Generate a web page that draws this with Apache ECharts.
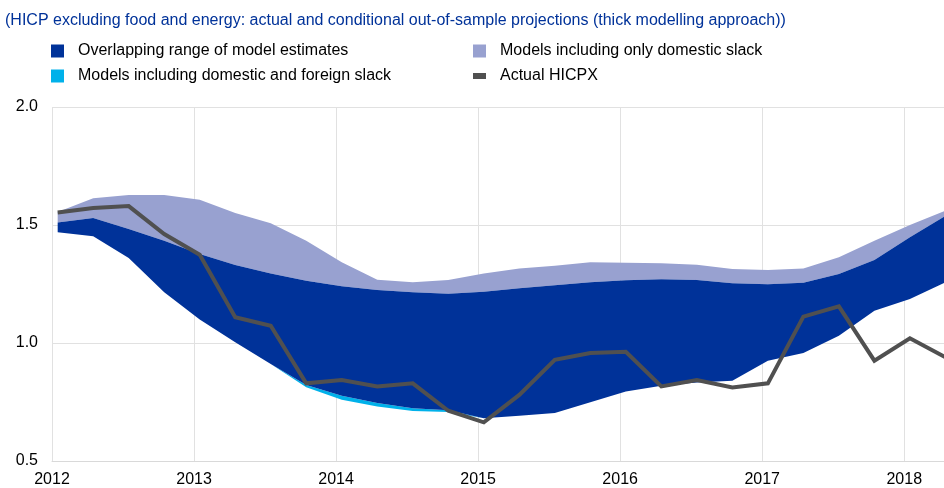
<!DOCTYPE html>
<html>
<head>
<meta charset="utf-8">
<script src="https://cdn.jsdelivr.net/npm/echarts@6/dist/echarts.min.js"></script>
<style>
  html, body { margin: 0; padding: 0; background: #fff; }
  #chart { width: 944px; height: 488px; }
</style>
</head>
<body>
<div id="chart"></div>
<script>
// Quarterly observations, 2012 Q1 to 2018 Q2 (fractional-year positions)
const quarters = [
  2012.04, 2012.29, 2012.54, 2012.79, 2013.04, 2013.29, 2013.54, 2013.79,
  2014.04, 2014.29, 2014.54, 2014.79, 2015.04, 2015.29, 2015.54, 2015.79,
  2016.04, 2016.29, 2016.54, 2016.79, 2017.04, 2017.29, 2017.54, 2017.79,
  2018.04, 2018.29
];

// Upper bound of models including only domestic slack
const domesticOnlyTop = [
  1.555, 1.613, 1.627, 1.627, 1.607, 1.551, 1.507, 1.433,
  1.342, 1.268, 1.257, 1.267, 1.295, 1.316, 1.327, 1.342,
  1.340, 1.338, 1.332, 1.314, 1.309, 1.316, 1.363, 1.433,
  1.500, 1.561
];

// Overlapping range of model estimates: upper and lower bounds
const overlapTop = [
  1.511, 1.530, 1.483, 1.433, 1.377, 1.331, 1.295, 1.264,
  1.240, 1.225, 1.215, 1.209, 1.217, 1.232, 1.245, 1.257,
  1.266, 1.270, 1.267, 1.253, 1.249, 1.255, 1.292, 1.352,
  1.448, 1.539
];
const overlapBottom = [
  1.469, 1.452, 1.360, 1.215, 1.100, 1.003, 0.911, 0.822,
  0.776, 0.746, 0.723, 0.715, 0.681, 0.692, 0.703, 0.749,
  0.794, 0.819, 0.833, 0.840, 0.925, 0.958, 1.031, 1.137,
  1.186, 1.257
];

// Lower bound of models including domestic and foreign slack
const domesticForeignBottom = [
  1.469, 1.452, 1.360, 1.215, 1.100, 1.003, 0.911, 0.812,
  0.760, 0.731, 0.712, 0.708, 0.681, 0.692, 0.703, 0.749,
  0.794, 0.819, 0.833, 0.840, 0.925, 0.958, 1.031, 1.137,
  1.186, 1.257
];

// Actual HICP excluding food and energy
const actualHicpx = [
  1.553, 1.572, 1.580, 1.462, 1.374, 1.109, 1.073, 0.829,
  0.843, 0.816, 0.829, 0.713, 0.664, 0.780, 0.929, 0.958,
  0.963, 0.816, 0.843, 0.812, 0.829, 1.112, 1.155, 0.925,
  1.020, 0.940
];

const yTicks = [0.5, 1.0, 1.5, 2.0];
const yearTicks = [2012, 2013, 2014, 2015, 2016, 2017, 2018];

const NAMES = {
  overlap: 'Overlapping range of model estimates',
  foreign: 'Models including domestic and foreign slack',
  domestic: 'Models including only domestic slack',
  actual: 'Actual HICPX'
};

const COLORS = {
  overlap: '#003299',
  foreign: '#00b1ea',
  domestic: '#98a1d0',
  actual: '#505050'
};

const FONT = 'Liberation Sans, Arial, sans-serif';
const labelFont = { fontFamily: FONT, fontSize: 16, color: '#000' };

// A shaded band between two bound arrays, drawn as one polygon through the axes' scales
function bandSeries(name, lower, upper, color, z) {
  const data = quarters.map((x, i) => [x, lower[i], upper[i]]);
  return {
    name: name,
    type: 'custom',
    data: data,
    encode: { x: 0, y: [1, 2] },
    itemStyle: { color: color },
    silent: true,
    clip: true,
    z: z,
    renderItem: function (params, api) {
      if (params.dataIndex !== 0) return null;
      const pts = [];
      for (let i = 0; i < data.length; i++) pts.push(api.coord([data[i][0], data[i][2]]));
      for (let i = data.length - 1; i >= 0; i--) pts.push(api.coord([data[i][0], data[i][1]]));
      return {
        type: 'polygon',
        shape: { points: pts },
        style: { fill: color, stroke: null }
      };
    }
  };
}

const option = {
  animation: false,
  backgroundColor: '#fff',
  title: {
    text: '(HICP excluding food and energy: actual and conditional out-of-sample projections (thick modelling approach))',
    left: 5,
    top: 13,
    padding: 0,
    textStyle: {
      fontFamily: FONT,
      fontSize: 16,
      fontWeight: 'normal',
      color: '#003299'
    }
  },
  legend: [
    {
      orient: 'vertical',
      left: 51,
      top: 43,
      padding: 0,
      itemWidth: 13,
      itemHeight: 13,
      itemGap: 9,
      selectedMode: false,
      textStyle: Object.assign({ padding: [0, 0, 0, 9] }, labelFont),
      data: [
        { name: NAMES.overlap, icon: 'rect' },
        { name: NAMES.foreign, icon: 'rect' }
      ]
    },
    {
      orient: 'vertical',
      left: 473,
      top: 43,
      padding: 0,
      itemWidth: 13,
      itemHeight: 13,
      itemGap: 9,
      selectedMode: false,
      textStyle: Object.assign({ padding: [0, 0, 0, 9] }, labelFont),
      data: [
        { name: NAMES.domestic, icon: 'rect' },
        { name: NAMES.actual, icon: 'path://M0,0H13V6H0Z' }
      ]
    }
  ],
  grid: { left: 52, right: 0, top: 107, bottom: 26, containLabel: false },
  xAxis: {
    type: 'value',
    min: yearTicks[0],
    max: 2018.28,
    interval: 1,
    axisLine: { show: true, lineStyle: { color: '#d9d9d9', width: 1 } },
    axisTick: { show: false },
    splitLine: { show: true, lineStyle: { color: '#e1e1e1', width: 1 } },
    axisLabel: Object.assign({
      margin: 11,
      showMaxLabel: false,
      formatter: (v) => (yearTicks.indexOf(v) >= 0 ? String(v) : '')
    }, labelFont)
  },
  yAxis: {
    type: 'value',
    min: yTicks[0],
    max: yTicks[yTicks.length - 1],
    interval: 0.5,
    axisLine: { show: false },
    axisTick: { show: false },
    splitLine: { show: true, lineStyle: { color: '#e1e1e1', width: 1 } },
    axisLabel: Object.assign({
      margin: 14,
      formatter: (v) => v.toFixed(1)
    }, labelFont)
  },
  series: [
    bandSeries(NAMES.domestic, overlapTop, domesticOnlyTop, COLORS.domestic, 2),
    bandSeries(NAMES.foreign, domesticForeignBottom, overlapBottom, COLORS.foreign, 2),
    bandSeries(NAMES.overlap, overlapBottom, overlapTop, COLORS.overlap, 3),
    {
      name: NAMES.actual,
      type: 'line',
      data: quarters.map((x, i) => [x, actualHicpx[i]]),
      symbol: 'none',
      itemStyle: { color: COLORS.actual },
      lineStyle: { width: 4, color: COLORS.actual, join: 'miter' },
      z: 5
    }
  ]
};

const chart = echarts.init(document.getElementById('chart'), null, { renderer: 'canvas' });
chart.setOption(option);
</script>
</body>
</html>
